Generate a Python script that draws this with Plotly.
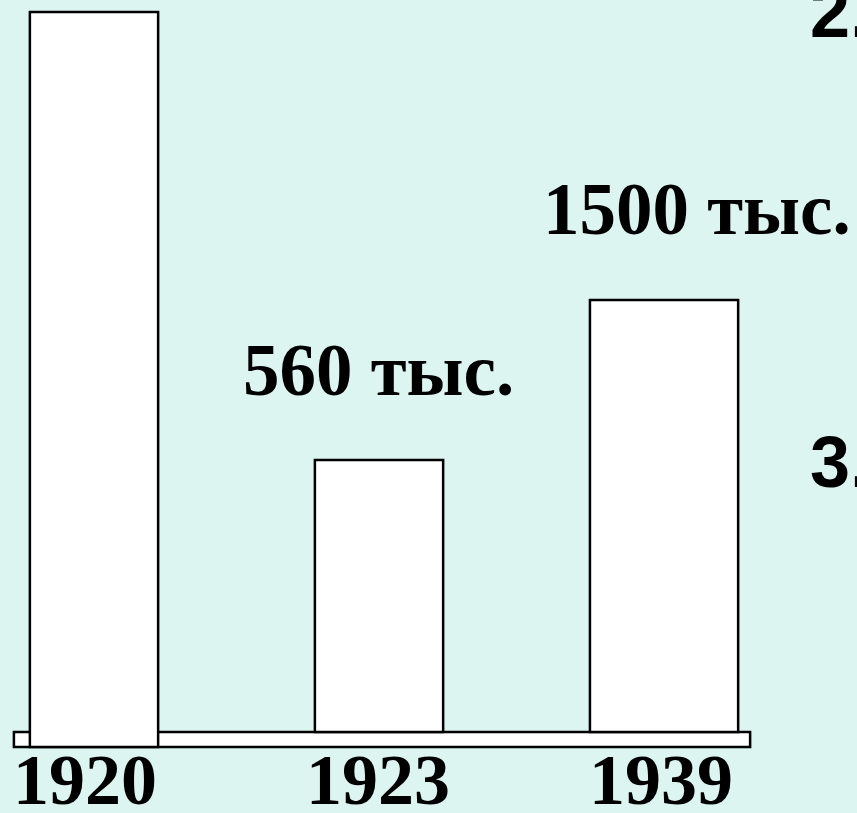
import plotly.graph_objects as go

# Data (bars are schematic, not to scale)
years = ["1920", "1923", "1939"]
drawn_heights = [720, 272, 432]          # relative drawn heights of the bars
value_labels = ["", "560 тыс.", "1500 тыс."]
bar_widths = [0.45, 0.45, 0.52]
side_labels = ["2.", "3."]

BG = "#DCF5F0"
SERIF = "Liberation Serif, Times New Roman, serif"
SANS = "Liberation Sans, Arial, sans-serif"

x_pos = list(range(len(years)))
base_depth = 15  # thickness of the plinth under the bars
bases = [-base_depth, 0, 0]
lengths = [h - b for h, b in zip(drawn_heights, bases)]

fig = go.Figure()
fig.add_trace(go.Bar(
    x=x_pos, y=lengths, base=bases, width=bar_widths,
    marker=dict(color="white", line=dict(color="black", width=2.5)),
    hoverinfo="skip", showlegend=False,
))

# plinth
fig.add_shape(type="rect", xref="x", yref="y",
              x0=-0.281, x1=2.302, y0=-base_depth, y1=0,
              fillcolor="white", line=dict(color="black", width=2.5), layer="below")

annotations = []
# value labels above bars
shifts = [(0, 0), (-1, 47), (33, 48)]
for i, lab in enumerate(value_labels):
    if lab:
        annotations.append(dict(
            x=x_pos[i], y=drawn_heights[i], xref="x", yref="y",
            text=f"<b>{lab}</b>", showarrow=False, xanchor="center", yanchor="bottom",
            xshift=shifts[i][0], yshift=shifts[i][1],
            font=dict(family=SERIF, size=73, color="black"),
        ))
# year labels under bars
year_xshift = [-9, -1, -3]
for i, yr in enumerate(years):
    annotations.append(dict(
        x=x_pos[i], y=-base_depth, xref="x", yref="y",
        text=f"<b>{yr}</b>", showarrow=False, xanchor="center", yanchor="top",
        xshift=year_xshift[i], yshift=9,
        font=dict(family=SERIF, size=72, color="black"),
    ))
# cut-off side labels
side_y = [0.985, 0.432]
for lab, yy in zip(side_labels, side_y):
    annotations.append(dict(
        x=808 / 857, y=yy, xref="paper", yref="paper",
        text=f"<b>{lab}</b>", showarrow=False, xanchor="left", yanchor="middle",
        font=dict(family=SANS, size=72, color="black"),
    ))

fig.update_layout(
    width=857, height=813,
    margin=dict(l=0, r=0, t=0, b=0),
    paper_bgcolor=BG, plot_bgcolor=BG,
    xaxis=dict(range=[-0.3298, 2.677], visible=False, fixedrange=True),
    yaxis=dict(range=[-81, 732], visible=False, fixedrange=True),
    annotations=annotations,
    showlegend=False,
)

fig.write_html("out.html", config={"displayModeBar": False})

# remove the browser's default page margin so the figure sits at the corner
with open("out.html", "r", encoding="utf-8") as f:
    html = f.read()
html = html.replace("<head>", "<head><style>html,body{margin:0;padding:0;overflow:hidden;}</style>", 1)
with open("out.html", "w", encoding="utf-8") as f:
    f.write(html)
